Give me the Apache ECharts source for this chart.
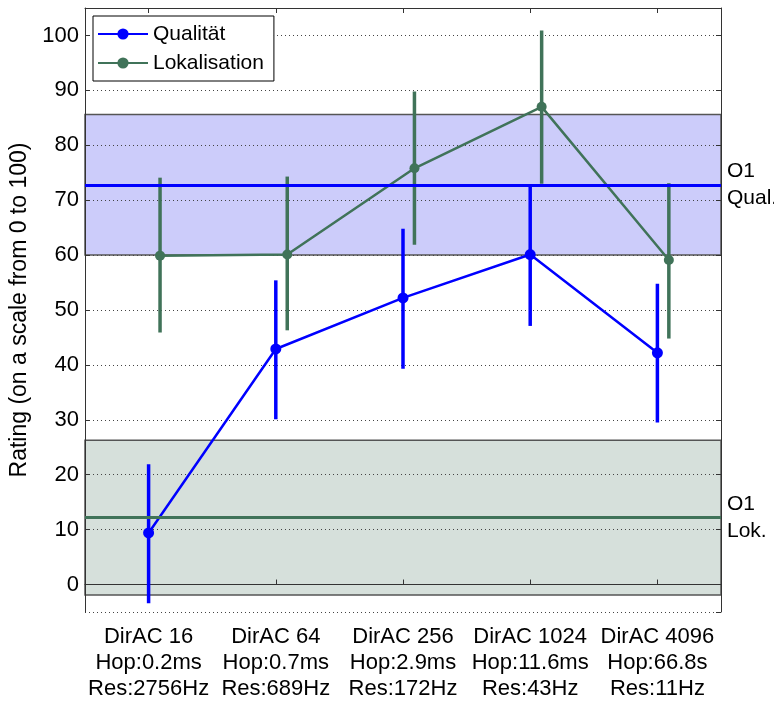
<!DOCTYPE html>
<html>
<head>
<meta charset="utf-8">
<script src="https://cdn.jsdelivr.net/npm/echarts@6/dist/echarts.min.js"></script>
<style>
html,body{margin:0;padding:0;background:#fff;}
#chart{width:774px;height:702px;}
</style>
</head>
<body>
<div id="chart"></div>
<script>
// ---- data ----
const catNames = ['DirAC 16', 'DirAC 64', 'DirAC 256', 'DirAC 1024', 'DirAC 4096'];
const catHop = ['Hop:0.2ms', 'Hop:0.7ms', 'Hop:2.9ms', 'Hop:11.6ms', 'Hop:66.8s'];
const catRes = ['Res:2756Hz', 'Res:689Hz', 'Res:172Hz', 'Res:43Hz', 'Res:11Hz'];

const qualX = [1, 2, 3, 4, 5];
const qualMean = [9.4, 42.9, 52.2, 60.1, 42.2];
const qualLow = [-3.4, 30.1, 39.3, 47.1, 29.5];
const qualHigh = [21.9, 55.4, 64.8, 72.7, 54.8];

const lokX = [1.09, 2.09, 3.09, 4.09, 5.09];
const lokMean = [59.9, 60.1, 75.8, 87.0, 59.1];
const lokLow = [45.9, 46.3, 61.9, 73.0, 44.8];
const lokHigh = [74.1, 74.3, 89.8, 100.9, 73.1];

// O1 reference: low, mean, high
const o1Qual = [60.0, 72.8, 85.6];
const o1Lok = [-1.9, 12.2, 26.3];

const yMin = -5, yMax = 105;

// ---- style ----
const BLUE = '#0000ff';
const GREEN = '#407359';
const FONT = 'Liberation Sans, Arial, sans-serif';

const categories = catNames.map((n, i) => n + '\n' + catHop[i] + '\n' + catRes[i]);

function errorBarSeries(name, xs, lows, highs, color) {
  return {
    type: 'custom',
    name: name + ' err',
    xAxisIndex: 1,
    yAxisIndex: 0,
    z: 3,
    silent: true,
    data: xs.map((x, i) => [x, lows[i], highs[i]]),
    encode: { x: 0, y: [1, 2] },
    renderItem: function (params, api) {
      const p1 = api.coord([api.value(0), api.value(1)]);
      const p2 = api.coord([api.value(0), api.value(2)]);
      return {
        type: 'line',
        shape: { x1: p1[0], y1: p1[1], x2: p2[0], y2: p2[1] },
        style: { stroke: color, lineWidth: 3.5 }
      };
    }
  };
}

const chart = echarts.init(document.getElementById('chart'));
chart.setOption({
  animation: false,
  backgroundColor: '#fff',
  textStyle: { fontFamily: FONT },
  grid: { left: 85, right: 53, top: 8, bottom: 87, containLabel: false },
  legend: {
    data: ['Qualität', 'Lokalisation'],
    orient: 'vertical',
    left: 93,
    top: 16,
    padding: [6, 10, 6, 4],
    itemGap: 5,
    itemWidth: 50,
    itemHeight: 14,
    backgroundColor: '#fff',
    borderColor: '#000',
    borderWidth: 1,
    borderRadius: 0,
    textStyle: { fontFamily: FONT, fontSize: 21, color: '#000', lineHeight: 24 }
  },
  xAxis: [
    {
      type: 'category',
      data: categories,
      position: 'bottom',
      boundaryGap: true,
      axisLine: { show: true, lineStyle: { color: '#333', width: 1 } },
      axisTick: { show: true, inside: true, length: 5, alignWithLabel: true, lineStyle: { color: '#333' } },
      axisLabel: { fontFamily: FONT, fontSize: 22, color: '#000', lineHeight: 26, margin: 12, interval: 0 },
      splitLine: { show: false }
    },
    {
      type: 'value',
      min: 0.5,
      max: 5.5,
      show: false,
      position: 'bottom'
    },
    {
      type: 'category',
      data: categories,
      position: 'top',
      boundaryGap: true,
      axisLine: { show: true, lineStyle: { color: '#333', width: 1 } },
      axisTick: { show: true, inside: true, length: 5, alignWithLabel: true, lineStyle: { color: '#333' } },
      axisLabel: { show: false },
      splitLine: { show: false }
    }
  ],
  yAxis: [
    {
      type: 'value',
      min: yMin,
      max: yMax,
      splitNumber: 11,
      position: 'left',
      name: 'Rating (on a scale from 0 to 100)',
      nameLocation: 'middle',
      nameGap: 45,
      nameTextStyle: { fontFamily: FONT, fontSize: 23, color: '#000' },
      axisLine: { show: true, lineStyle: { color: '#333', width: 1 } },
      axisTick: { show: true, inside: true, length: 5, lineStyle: { color: '#333' } },
      axisLabel: { fontFamily: FONT, fontSize: 22, color: '#000', margin: 6, showMinLabel: false, showMaxLabel: false },
      splitLine: { show: true, lineStyle: { color: '#444', width: 1, type: [1, 3] } }
    },
    {
      type: 'value',
      min: yMin,
      max: yMax,
      splitNumber: 11,
      position: 'right',
      axisLine: { show: true, lineStyle: { color: '#333', width: 1 } },
      axisTick: { show: true, inside: true, length: 5, lineStyle: { color: '#333' } },
      axisLabel: { show: false },
      splitLine: { show: false }
    }
  ],
  series: [
    {
      type: 'line',
      name: 'bands',
      xAxisIndex: 1,
      yAxisIndex: 0,
      data: [],
      silent: true,
      markArea: {
        silent: true,
        z: -1,
        data: [
          [{ yAxis: o1Qual[0], itemStyle: { color: '#ccccfa', borderColor: '#555', borderWidth: 1.5 } }, { yAxis: o1Qual[2] }],
          [{ yAxis: o1Lok[0], itemStyle: { color: '#d6e0db', borderColor: '#555', borderWidth: 1.5 } }, { yAxis: o1Lok[2] }]
        ]
      },
      markLine: {
        silent: true,
        symbol: ['none', 'none'],
        label: { show: true, position: 'end', distance: 6, color: '#000', fontFamily: FONT, fontSize: 21, lineHeight: 27, align: 'left' },
        data: [
          { yAxis: o1Qual[1], lineStyle: { color: BLUE, width: 3, type: 'solid' }, label: { formatter: 'O1\nQual.' } },
          { yAxis: o1Lok[1], lineStyle: { color: GREEN, width: 3, type: 'solid' }, label: { formatter: 'O1\nLok.' } }
        ]
      }
    },
    errorBarSeries('Qualität', qualX, qualLow, qualHigh, BLUE),
    errorBarSeries('Lokalisation', lokX, lokLow, lokHigh, GREEN),
    {
      type: 'line',
      name: 'Qualität',
      xAxisIndex: 1,
      yAxisIndex: 0,
      z: 4,
      data: qualX.map((x, i) => [x, qualMean[i]]),
      symbol: 'circle',
      symbolSize: 11,
      color: BLUE,
      lineStyle: { color: BLUE, width: 2.5 },
      itemStyle: { color: BLUE }
    },
    {
      type: 'line',
      name: 'Lokalisation',
      xAxisIndex: 1,
      yAxisIndex: 0,
      z: 4,
      data: lokX.map((x, i) => [x, lokMean[i]]),
      symbol: 'circle',
      symbolSize: 10,
      color: GREEN,
      lineStyle: { color: GREEN, width: 2.5 },
      itemStyle: { color: GREEN }
    }
  ]
});
</script>
</body>
</html>
